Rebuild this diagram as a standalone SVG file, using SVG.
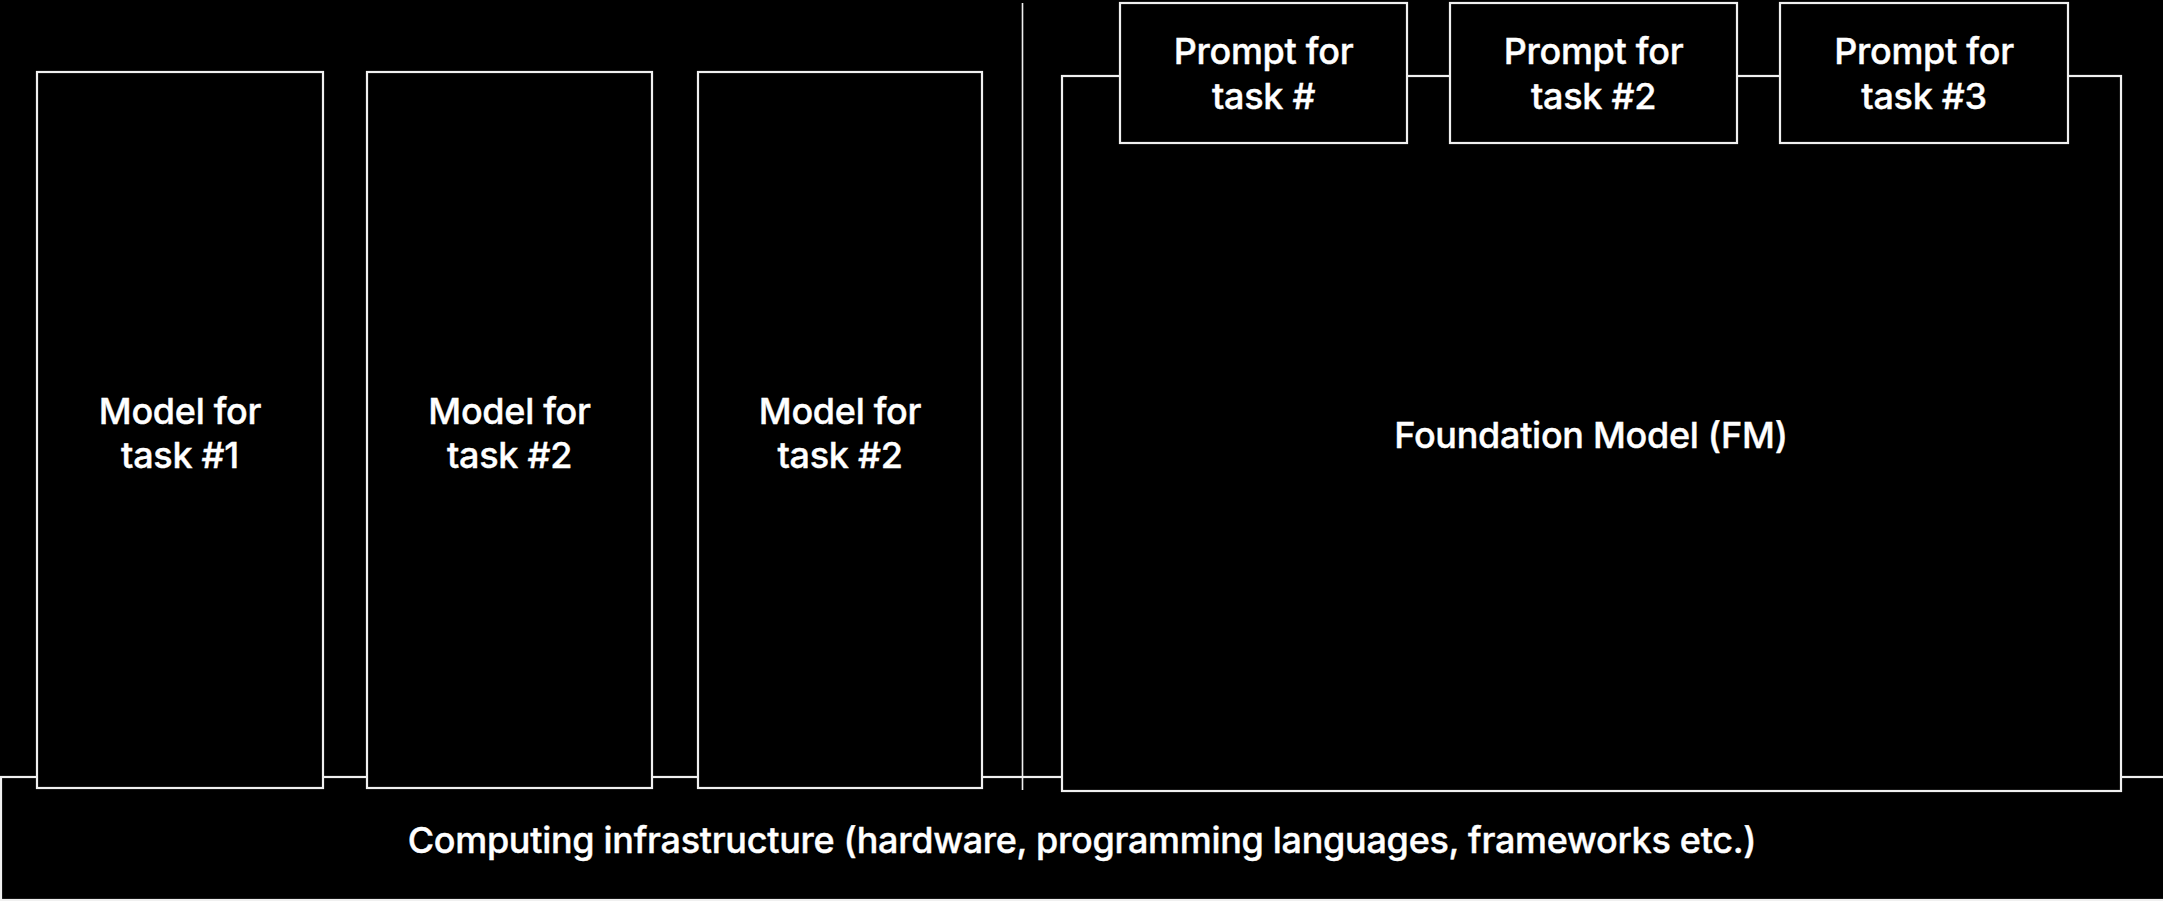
<svg xmlns="http://www.w3.org/2000/svg" width="2163" height="901" viewBox="0 0 2163 901">
  <style>
    .box { fill: #000; stroke: #f0f0f0; stroke-width: 2.2; }
    .rule { stroke: #f0f0f0; stroke-width: 1.6; fill: none; }
    .label { fill: #fff; font-family: Inter, "Liberation Sans", sans-serif; font-size: 36px; font-weight: 500; text-anchor: middle; letter-spacing: -0.3px; stroke: #fff; stroke-width: 0.4px; }
  </style>
  <rect x="0" y="0" width="2163" height="901" fill="#000"/>

  <!-- base layer spanning the full width -->
  <g id="infrastructure">
    <rect class="box" x="1" y="777" width="2175" height="123"/>
    <text class="label" x="1082" y="853">Computing infrastructure (hardware, programming languages, frameworks etc.)</text>
  </g>

  <!-- separator between the two approaches -->
  <g id="connectors">
    <line class="rule" x1="1022.5" y1="3" x2="1022.5" y2="790"/>
  </g>

  <g id="model1">
    <rect class="box" x="37" y="72" width="286" height="716"/>
    <text class="label" x="180" y="424">Model for</text>
    <text class="label" x="180" y="468">task #1</text>
  </g>
  <g id="model2">
    <rect class="box" x="367" y="72" width="285" height="716"/>
    <text class="label" x="509.5" y="424">Model for</text>
    <text class="label" x="509.5" y="468">task #2</text>
  </g>
  <g id="model3">
    <rect class="box" x="698" y="72" width="284" height="716"/>
    <text class="label" x="840" y="424">Model for</text>
    <text class="label" x="840" y="468">task #2</text>
  </g>

  <g id="foundation-model">
    <rect class="box" x="1062" y="76" width="1059" height="715"/>
    <text class="label" x="1591" y="448">Foundation Model (FM)</text>
  </g>

  <g id="prompt1">
    <rect class="box" x="1120" y="3" width="287" height="140"/>
    <text class="label" x="1263.5" y="64">Prompt for</text>
    <text class="label" x="1263.5" y="109">task #</text>
  </g>
  <g id="prompt2">
    <rect class="box" x="1450" y="3" width="287" height="140"/>
    <text class="label" x="1593.5" y="64">Prompt for</text>
    <text class="label" x="1593.5" y="109">task #2</text>
  </g>
  <g id="prompt3">
    <rect class="box" x="1780" y="3" width="288" height="140"/>
    <text class="label" x="1924" y="64">Prompt for</text>
    <text class="label" x="1924" y="109">task #3</text>
  </g>
</svg>
